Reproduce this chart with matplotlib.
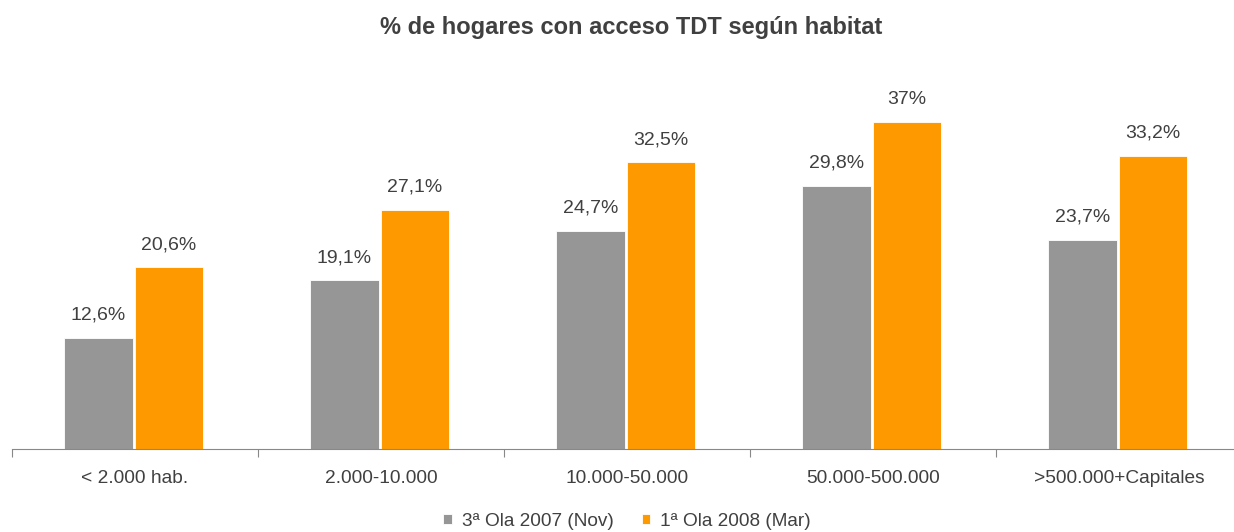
import matplotlib.pyplot as plt
import numpy as np

plt.rcParams['font.family'] = ['Liberation Sans', 'DejaVu Sans']

categorias = ['< 2.000 hab.', '2.000-10.000', '10.000-50.000', '50.000-500.000', '>500.000+Capitales']
ola_2007 = [12.6, 19.1, 24.7, 29.8, 23.7]
ola_2008 = [20.6, 27.1, 32.5, 37.0, 33.2]
etiquetas_2007 = ['12,6%', '19,1%', '24,7%', '29,8%', '23,7%']
etiquetas_2008 = ['20,6%', '27,1%', '32,5%', '37%', '33,2%']

gris = '#969696'
naranja = '#FF9900'
texto = '#404040'

fig = plt.figure(figsize=(12.34, 5.32), dpi=100)
ax = fig.add_axes([12 / 1234, 83 / 532, 1230 / 1234, 353 / 532])

x = np.arange(len(categorias))
w = 0.277
b1 = ax.bar(x - w / 2 - 0.01, ola_2007, w, color=gris, edgecolor='white', linewidth=0.6, label='3ª Ola 2007 (Nov)')
b2 = ax.bar(x + w / 2 - 0.002, ola_2008, w, color=naranja, edgecolor='white', linewidth=0.6, label='1ª Ola 2008 (Mar)')

for rect, lab in zip(b1, etiquetas_2007):
    ax.text(rect.get_x() + rect.get_width() / 2, rect.get_height() + 1.6, lab,
            ha='center', va='bottom', fontsize=14, color=texto)
for rect, lab in zip(b2, etiquetas_2008):
    ax.text(rect.get_x() + rect.get_width() / 2, rect.get_height() + 1.6, lab,
            ha='center', va='bottom', fontsize=14, color=texto)

ax.set_xlim(-0.5, len(categorias) - 0.5)
ax.set_ylim(0, 40)
ax.set_yticks([])
ax.set_xticks(np.arange(len(categorias) + 1) - 0.5, minor=False)
ax.set_xticklabels([])
ax.set_xticks(x, minor=True)
ax.set_xticklabels(categorias, minor=True, fontsize=13.8, color=texto)
ax.tick_params(axis='x', which='major', length=6, color='#888888', direction='out')
ax.tick_params(axis='x', which='minor', length=0, pad=15)
for s in ['top', 'right', 'left']:
    ax.spines[s].set_visible(False)
ax.spines['bottom'].set_color('#888888')

fig.text(631 / 1234, 1 - 28 / 532, '% de hogares con acceso TDT según habitat', ha='center', va='center',
         fontsize=17, fontweight='bold', color=texto)

fig.legend(handles=[b1, b2], loc='center', bbox_to_anchor=(627 / 1234, 1 - 521 / 532), ncol=2, frameon=False,
           fontsize=13.7, handlelength=0.45, handleheight=0.45, handletextpad=0.5, columnspacing=1.5,
           labelcolor=texto)

fig.savefig('out.png', dpi=100)
